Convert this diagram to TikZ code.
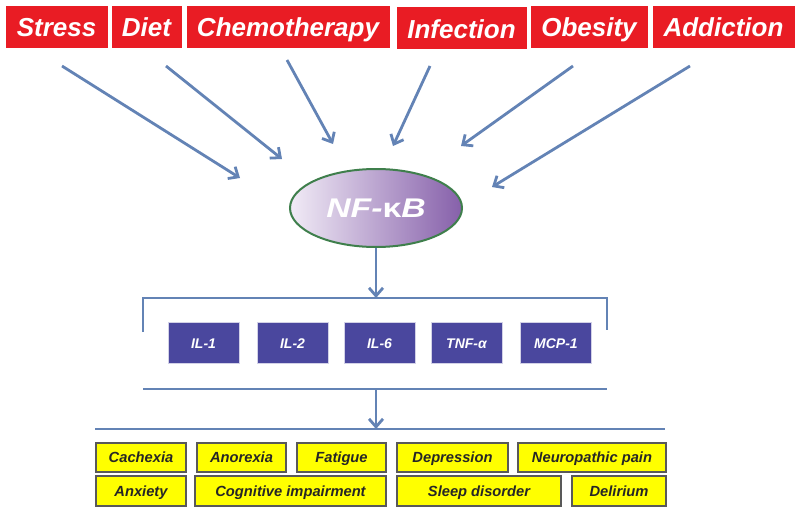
\documentclass[tikz,border=0pt]{standalone}
\usepackage{fontspec}
\setmainfont{Liberation Sans}
\usetikzlibrary{shapes.geometric}
\usetikzlibrary{arrows.meta}
\usetikzlibrary{positioning}
\definecolor{causered}{HTML}{E91C24}
\definecolor{flowblue}{HTML}{6383B5}
\definecolor{cytoblue}{HTML}{4A479E}
\definecolor{symyellow}{HTML}{FFFF00}
\definecolor{nfgreen}{HTML}{3F7F4C}
\definecolor{nflight}{HTML}{F1EBF6}
\definecolor{nfdark}{HTML}{8660AA}

\tikzset{
	cause/.style={fill=causered, draw=white, line width=1pt, text=white,
		font=\fontsize{26}{26}\selectfont\bfseries\itshape, minimum height=43pt, inner sep=0pt,
		text height=22pt, text depth=2.2pt},
	flow/.style={draw=flowblue, line width=2.8pt, -{Straight Barb[length=8pt,width=14pt,line width=2.8pt]}},
	bar/.style={draw=flowblue, line width=2.8pt},
	cyto/.style={fill=cytoblue, draw=white!75!cytoblue, line width=0.8pt, text=white,
		font=\fontsize{14}{14}\selectfont\bfseries\itshape, minimum width=71pt, minimum height=41pt, inner sep=0pt,
		text height=12pt, text depth=1pt},
	symptom/.style={fill=symyellow, draw=black!65, line width=1.5pt, text=black!85,
		font=\fontsize{14.7}{14.7}\selectfont\bfseries\itshape, inner sep=0pt,
		text height=12.1pt, text depth=1.6pt}
}

\begin{document}
\begin{tikzpicture}[x=1pt,y=-1pt]
		\useasboundingbox (0,0) rectangle (800,511);
		% causes along the top
		\foreach \name/\cx/\cy/\w/\txt in {stress/56.5/27/103/Stress, diet/146.5/27/71/Diet,
			chemo/288/27/204/Chemotherapy, infection/461.5/28.5/131/Infection,
			obesity/589/27/118/Obesity, addiction/723.5/27/143/Addiction}
		{
			\node[cause, minimum width=\w pt] (\name) at (\cx,\cy) {\txt};
		}
		\node[ellipse, draw=nfgreen, line width=2pt, left color=nflight, right color=nfdark,
			minimum width=172pt, minimum height=78pt, text=white,
			font=\fontsize{27}{27}\selectfont\bfseries\itshape] (nfkb) at (376,208)
			{\scalebox{1.25}[1]{NF-\textnormal{\bfseries κ}B}};
		% arrows into NF-kB
		\foreach \name/\tx/\ty/\hx/\hy in {stress/62/66/240/178, diet/166/66/282/159,
			chemo/287/60/333/144, infection/430/66/393/146,
			obesity/573/66/461/146, addiction/690/66/492/187}
		{
			\coordinate (\name-tail) at (\tx,\ty);
			\coordinate (\name-head) at (\hx,\hy);
			\draw[flow] (\name-tail) -- (\name-head);
		}
		% bracket and cytokines
		\coordinate (brL) at (143,332);
		\coordinate (brTL) at (143,298);
		\coordinate (brTR) at (607,298);
		\coordinate (brR) at (607,330);
		\coordinate (brM) at (376,298);
		\draw[bar] (brL) -- (brTL) -- (brTR) -- (brR);
		\draw[flow] (nfkb.south) -- (brM);
		\foreach \name/\cx/\txt in {il1/203.5/IL-1, il2/292.5/IL-2, il6/379.5/IL-6,
			tnf/466.5/TNF-α, mcp/556/MCP-1}
		{
			\node[cyto] (\name) at (\cx,342.5) {\txt};
		}
		\coordinate (midL) at (143,389);
		\coordinate (midR) at (607,389);
		\coordinate (midM) at (376,389);
		\coordinate (lowL) at (95,429);
		\coordinate (lowR) at (665,429);
		\coordinate (lowM) at (376,429);
		\draw[bar] (midL) -- (midR);
		\draw[bar] (lowL) -- (lowR);
		\draw[flow] (midM) -- (lowM);
		% symptoms
		\foreach \name/\cx/\cy/\w/\h/\txt in {cachexia/141/457.5/90/29/Cachexia,
			anorexia/241.5/457.5/89/29/Anorexia, fatigue/341.5/457.5/89/29/Fatigue,
			depression/452.5/457.5/111/29/Depression, neuro/592/457.5/148/29/Neuropathic pain,
			anxiety/141/491/90/30/Anxiety, cognitive/290.5/491/191/30/Cognitive impairment,
			sleep/479/491/164/30/Sleep disorder, delirium/619/491/94/30/Delirium}
		{
			\node[symptom, minimum width=\w pt, minimum height=\h pt] (\name) at (\cx,\cy) {\txt};
		}
	\end{tikzpicture}
\end{document}
